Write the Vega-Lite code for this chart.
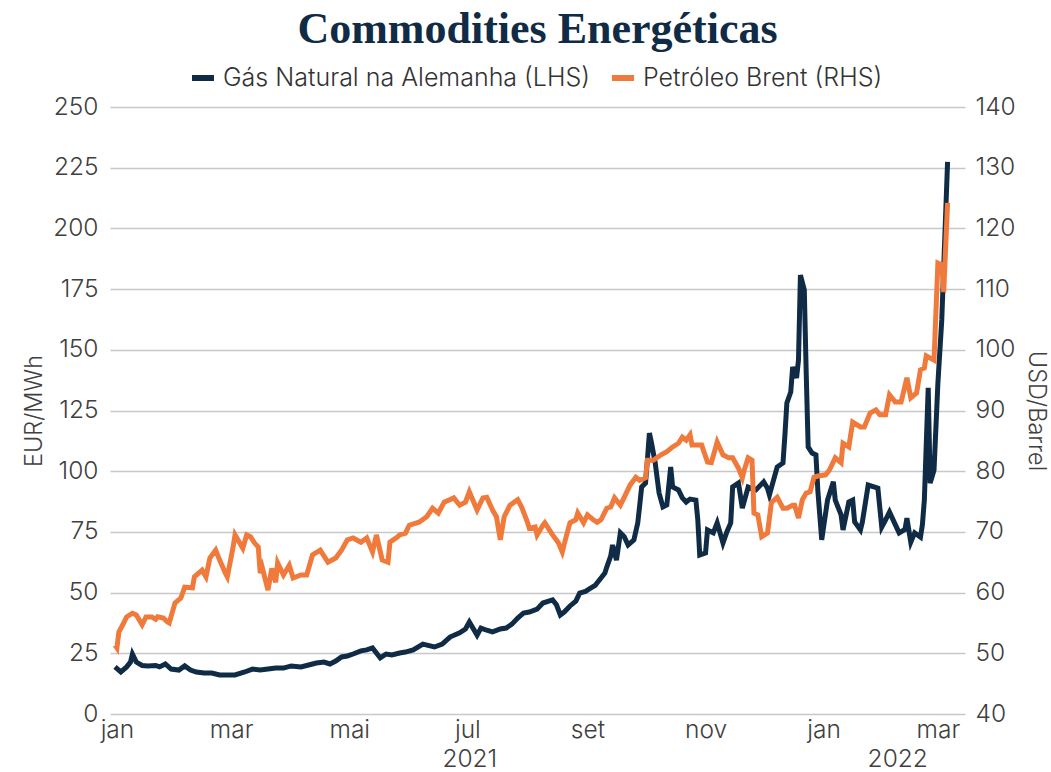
{
  "$schema": "https://vega.github.io/schema/vega-lite/v6.json",
  "width": 855,
  "height": 607,
  "autosize": {"type": "none"},
  "padding": {"left": 110, "top": 107, "right": 86, "bottom": 58},
  "background": "white",
  "title": {"text": "Commodities Energéticas", "font": "Liberation Serif", "fontSize": 44, "fontWeight": "bold", "color": "#0f2b45", "anchor": "middle", "frame": "group", "offset": 12},
  "config": {
    "view": {"stroke": null},
    "axis": {"labelFont": "Inter", "labelFontWeight": 300, "labelFontSize": 24.5, "labelColor": "#404040", "titleFont": "Inter", "titleFontWeight": 300, "titleFontSize": 23.5, "titleColor": "#404040", "domain": false, "ticks": false, "tickSize": 0}
  },
  "datasets": {
    "gas": [
      {"date": "2020-12-31", "value": 19.4}, {"date": "2021-01-03", "value": 17.3}, {"date": "2021-01-06", "value": 19.4}, {"date": "2021-01-08", "value": 21.4}, {"date": "2021-01-09", "value": 24.7}, {"date": "2021-01-11", "value": 21.4}, {"date": "2021-01-14", "value": 20.0}, {"date": "2021-01-17", "value": 19.8}, {"date": "2021-01-21", "value": 20.0}, {"date": "2021-01-23", "value": 19.4}, {"date": "2021-01-26", "value": 20.6}, {"date": "2021-01-29", "value": 18.5},
      {"date": "2021-02-02", "value": 18.1}, {"date": "2021-02-05", "value": 19.8}, {"date": "2021-02-08", "value": 18.1}, {"date": "2021-02-11", "value": 17.3}, {"date": "2021-02-15", "value": 16.9}, {"date": "2021-02-19", "value": 16.9}, {"date": "2021-02-23", "value": 16.1}, {"date": "2021-02-27", "value": 16.1},
      {"date": "2021-03-03", "value": 16.1}, {"date": "2021-03-08", "value": 17.3}, {"date": "2021-03-12", "value": 18.5}, {"date": "2021-03-16", "value": 18.1}, {"date": "2021-03-20", "value": 18.5}, {"date": "2021-03-24", "value": 18.9}, {"date": "2021-03-28", "value": 18.9},
      {"date": "2021-04-01", "value": 19.8}, {"date": "2021-04-06", "value": 19.4}, {"date": "2021-04-10", "value": 20.2}, {"date": "2021-04-14", "value": 21.0}, {"date": "2021-04-18", "value": 21.4}, {"date": "2021-04-21", "value": 20.6}, {"date": "2021-04-24", "value": 21.8}, {"date": "2021-04-27", "value": 23.5}, {"date": "2021-04-30", "value": 23.9},
      {"date": "2021-05-03", "value": 24.7}, {"date": "2021-05-07", "value": 26.0}, {"date": "2021-05-10", "value": 26.4}, {"date": "2021-05-13", "value": 27.2}, {"date": "2021-05-17", "value": 23.1}, {"date": "2021-05-20", "value": 24.7}, {"date": "2021-05-23", "value": 24.3}, {"date": "2021-05-27", "value": 25.1}, {"date": "2021-05-30", "value": 25.5},
      {"date": "2021-06-03", "value": 26.4}, {"date": "2021-06-08", "value": 28.8}, {"date": "2021-06-14", "value": 27.6}, {"date": "2021-06-18", "value": 28.8}, {"date": "2021-06-22", "value": 31.7}, {"date": "2021-06-27", "value": 33.4}, {"date": "2021-06-30", "value": 35.0},
      {"date": "2021-07-02", "value": 37.9}, {"date": "2021-07-06", "value": 32.5}, {"date": "2021-07-08", "value": 35.4}, {"date": "2021-07-11", "value": 34.5}, {"date": "2021-07-14", "value": 33.8}, {"date": "2021-07-18", "value": 35.0}, {"date": "2021-07-21", "value": 35.4}, {"date": "2021-07-24", "value": 37.0}, {"date": "2021-07-27", "value": 39.5}, {"date": "2021-07-30", "value": 41.6},
      {"date": "2021-08-02", "value": 42.0}, {"date": "2021-08-06", "value": 43.2}, {"date": "2021-08-09", "value": 45.7}, {"date": "2021-08-12", "value": 46.5}, {"date": "2021-08-14", "value": 47.0}, {"date": "2021-08-16", "value": 45.0}, {"date": "2021-08-18", "value": 40.8}, {"date": "2021-08-20", "value": 42.0}, {"date": "2021-08-23", "value": 44.5}, {"date": "2021-08-26", "value": 46.5}, {"date": "2021-08-28", "value": 49.8}, {"date": "2021-08-31", "value": 50.5},
      {"date": "2021-09-02", "value": 51.5}, {"date": "2021-09-05", "value": 53.0}, {"date": "2021-09-08", "value": 56.0}, {"date": "2021-09-10", "value": 58.0}, {"date": "2021-09-11", "value": 60.5}, {"date": "2021-09-13", "value": 65.0}, {"date": "2021-09-14", "value": 69.6}, {"date": "2021-09-16", "value": 63.4}, {"date": "2021-09-18", "value": 74.6}, {"date": "2021-09-20", "value": 73.0}, {"date": "2021-09-22", "value": 69.6}, {"date": "2021-09-25", "value": 71.7}, {"date": "2021-09-27", "value": 78.7}, {"date": "2021-09-28", "value": 86.0}, {"date": "2021-09-29", "value": 93.5},
      {"date": "2021-10-01", "value": 95.1}, {"date": "2021-10-02", "value": 105.0}, {"date": "2021-10-03", "value": 115.7}, {"date": "2021-10-04", "value": 112.0}, {"date": "2021-10-06", "value": 103.4}, {"date": "2021-10-08", "value": 91.0}, {"date": "2021-10-10", "value": 85.3}, {"date": "2021-10-12", "value": 86.1}, {"date": "2021-10-14", "value": 101.7}, {"date": "2021-10-15", "value": 93.5}, {"date": "2021-10-18", "value": 92.3}, {"date": "2021-10-20", "value": 89.0}, {"date": "2021-10-22", "value": 87.3}, {"date": "2021-10-24", "value": 88.5}, {"date": "2021-10-27", "value": 88.1}, {"date": "2021-10-28", "value": 80.0}, {"date": "2021-10-29", "value": 65.5},
      {"date": "2021-11-01", "value": 66.3}, {"date": "2021-11-02", "value": 75.8}, {"date": "2021-11-05", "value": 74.6}, {"date": "2021-11-07", "value": 78.7}, {"date": "2021-11-10", "value": 70.4}, {"date": "2021-11-12", "value": 75.0}, {"date": "2021-11-14", "value": 78.7}, {"date": "2021-11-15", "value": 93.5}, {"date": "2021-11-18", "value": 95.1}, {"date": "2021-11-20", "value": 84.8}, {"date": "2021-11-23", "value": 93.5}, {"date": "2021-11-27", "value": 92.3},
      {"date": "2021-12-01", "value": 95.6}, {"date": "2021-12-03", "value": 93.0}, {"date": "2021-12-04", "value": 90.2}, {"date": "2021-12-06", "value": 96.0}, {"date": "2021-12-08", "value": 101.7}, {"date": "2021-12-11", "value": 103.4}, {"date": "2021-12-12", "value": 115.0}, {"date": "2021-12-13", "value": 128.1}, {"date": "2021-12-15", "value": 132.6}, {"date": "2021-12-16", "value": 142.9}, {"date": "2021-12-18", "value": 138.4}, {"date": "2021-12-19", "value": 145.8}, {"date": "2021-12-20", "value": 180.8}, {"date": "2021-12-22", "value": 174.7}, {"date": "2021-12-23", "value": 140.0}, {"date": "2021-12-24", "value": 110.0}, {"date": "2021-12-26", "value": 107.5}, {"date": "2021-12-28", "value": 106.7}, {"date": "2021-12-29", "value": 92.0}, {"date": "2021-12-31", "value": 71.7},
      {"date": "2022-01-03", "value": 88.1}, {"date": "2022-01-06", "value": 95.6}, {"date": "2022-01-07", "value": 88.1}, {"date": "2022-01-10", "value": 82.0}, {"date": "2022-01-11", "value": 75.8}, {"date": "2022-01-14", "value": 87.3}, {"date": "2022-01-16", "value": 88.1}, {"date": "2022-01-17", "value": 79.1}, {"date": "2022-01-20", "value": 75.8}, {"date": "2022-01-21", "value": 79.1}, {"date": "2022-01-24", "value": 94.3}, {"date": "2022-01-27", "value": 93.5}, {"date": "2022-01-29", "value": 93.0}, {"date": "2022-01-31", "value": 77.0},
      {"date": "2022-02-02", "value": 80.0}, {"date": "2022-02-04", "value": 83.2}, {"date": "2022-02-07", "value": 78.0}, {"date": "2022-02-09", "value": 74.6}, {"date": "2022-02-12", "value": 76.0}, {"date": "2022-02-13", "value": 80.7}, {"date": "2022-02-15", "value": 70.8}, {"date": "2022-02-17", "value": 74.6}, {"date": "2022-02-20", "value": 72.9}, {"date": "2022-02-21", "value": 78.0}, {"date": "2022-02-22", "value": 88.1}, {"date": "2022-02-24", "value": 134.3}, {"date": "2022-02-25", "value": 95.1}, {"date": "2022-02-27", "value": 100.5},
      {"date": "2022-03-01", "value": 136.3}, {"date": "2022-03-03", "value": 162.3}, {"date": "2022-03-06", "value": 227.4}
    ],
    "brent": [
      {"date": "2020-12-31", "value": 51.4}, {"date": "2021-01-01", "value": 50.9}, {"date": "2021-01-02", "value": 53.5}, {"date": "2021-01-04", "value": 54.7}, {"date": "2021-01-06", "value": 56.0}, {"date": "2021-01-09", "value": 56.6}, {"date": "2021-01-11", "value": 56.3}, {"date": "2021-01-14", "value": 54.7}, {"date": "2021-01-16", "value": 56.0}, {"date": "2021-01-19", "value": 56.0}, {"date": "2021-01-21", "value": 55.6}, {"date": "2021-01-22", "value": 56.0}, {"date": "2021-01-25", "value": 55.8}, {"date": "2021-01-27", "value": 55.2}, {"date": "2021-01-28", "value": 55.0}, {"date": "2021-01-31", "value": 58.3},
      {"date": "2021-02-03", "value": 59.1}, {"date": "2021-02-05", "value": 60.9}, {"date": "2021-02-09", "value": 60.8}, {"date": "2021-02-10", "value": 62.6}, {"date": "2021-02-14", "value": 63.7}, {"date": "2021-02-16", "value": 62.6}, {"date": "2021-02-18", "value": 65.7}, {"date": "2021-02-21", "value": 67.0}, {"date": "2021-02-23", "value": 65.4}, {"date": "2021-02-26", "value": 63.2}, {"date": "2021-02-27", "value": 62.6},
      {"date": "2021-03-02", "value": 67.5}, {"date": "2021-03-03", "value": 69.5}, {"date": "2021-03-07", "value": 67.3}, {"date": "2021-03-09", "value": 69.5}, {"date": "2021-03-11", "value": 69.2}, {"date": "2021-03-13", "value": 68.2}, {"date": "2021-03-15", "value": 67.5}, {"date": "2021-03-16", "value": 63.2}, {"date": "2021-03-17", "value": 64.2}, {"date": "2021-03-20", "value": 60.4}, {"date": "2021-03-22", "value": 64.0}, {"date": "2021-03-24", "value": 61.7}, {"date": "2021-03-25", "value": 64.9}, {"date": "2021-03-28", "value": 62.9}, {"date": "2021-03-31", "value": 64.5},
      {"date": "2021-04-02", "value": 62.4}, {"date": "2021-04-06", "value": 62.9}, {"date": "2021-04-09", "value": 62.9}, {"date": "2021-04-12", "value": 66.2}, {"date": "2021-04-16", "value": 67.0}, {"date": "2021-04-20", "value": 65.0}, {"date": "2021-04-24", "value": 65.7}, {"date": "2021-04-27", "value": 67.0}, {"date": "2021-04-30", "value": 68.7},
      {"date": "2021-05-03", "value": 69.0}, {"date": "2021-05-07", "value": 68.3}, {"date": "2021-05-10", "value": 69.0}, {"date": "2021-05-13", "value": 66.7}, {"date": "2021-05-15", "value": 69.5}, {"date": "2021-05-18", "value": 65.4}, {"date": "2021-05-21", "value": 65.0}, {"date": "2021-05-22", "value": 68.3}, {"date": "2021-05-26", "value": 69.2}, {"date": "2021-05-27", "value": 69.5}, {"date": "2021-05-30", "value": 69.8},
      {"date": "2021-06-01", "value": 71.1}, {"date": "2021-06-06", "value": 71.6}, {"date": "2021-06-10", "value": 72.5}, {"date": "2021-06-13", "value": 73.9}, {"date": "2021-06-16", "value": 73.1}, {"date": "2021-06-19", "value": 74.9}, {"date": "2021-06-24", "value": 75.6}, {"date": "2021-06-27", "value": 74.4}, {"date": "2021-06-30", "value": 74.9},
      {"date": "2021-07-02", "value": 76.6}, {"date": "2021-07-06", "value": 73.6}, {"date": "2021-07-09", "value": 75.6}, {"date": "2021-07-11", "value": 75.7}, {"date": "2021-07-14", "value": 73.6}, {"date": "2021-07-16", "value": 72.5}, {"date": "2021-07-18", "value": 68.7}, {"date": "2021-07-20", "value": 72.5}, {"date": "2021-07-23", "value": 74.4}, {"date": "2021-07-27", "value": 75.3}, {"date": "2021-07-29", "value": 74.1},
      {"date": "2021-08-01", "value": 71.6}, {"date": "2021-08-02", "value": 70.6}, {"date": "2021-08-05", "value": 70.8}, {"date": "2021-08-06", "value": 69.5}, {"date": "2021-08-09", "value": 71.1}, {"date": "2021-08-10", "value": 71.5}, {"date": "2021-08-14", "value": 69.5}, {"date": "2021-08-17", "value": 68.2}, {"date": "2021-08-19", "value": 66.7}, {"date": "2021-08-21", "value": 69.2}, {"date": "2021-08-23", "value": 71.5}, {"date": "2021-08-26", "value": 72.0}, {"date": "2021-08-27", "value": 73.1}, {"date": "2021-08-30", "value": 71.5},
      {"date": "2021-09-01", "value": 72.8}, {"date": "2021-09-04", "value": 72.0}, {"date": "2021-09-06", "value": 71.6}, {"date": "2021-09-08", "value": 72.0}, {"date": "2021-09-11", "value": 73.9}, {"date": "2021-09-13", "value": 74.1}, {"date": "2021-09-15", "value": 75.6}, {"date": "2021-09-18", "value": 74.4}, {"date": "2021-09-20", "value": 75.7}, {"date": "2021-09-23", "value": 77.7}, {"date": "2021-09-26", "value": 79.0}, {"date": "2021-09-28", "value": 78.5},
      {"date": "2021-10-01", "value": 78.9}, {"date": "2021-10-02", "value": 81.8}, {"date": "2021-10-05", "value": 81.8}, {"date": "2021-10-09", "value": 82.7}, {"date": "2021-10-12", "value": 83.2}, {"date": "2021-10-15", "value": 84.0}, {"date": "2021-10-18", "value": 84.6}, {"date": "2021-10-20", "value": 85.6}, {"date": "2021-10-22", "value": 85.1}, {"date": "2021-10-24", "value": 86.0}, {"date": "2021-10-25", "value": 84.3}, {"date": "2021-10-30", "value": 84.3},
      {"date": "2021-11-02", "value": 81.5}, {"date": "2021-11-04", "value": 81.4}, {"date": "2021-11-07", "value": 84.8}, {"date": "2021-11-10", "value": 82.7}, {"date": "2021-11-13", "value": 82.2}, {"date": "2021-11-15", "value": 82.2}, {"date": "2021-11-18", "value": 80.5}, {"date": "2021-11-20", "value": 78.9}, {"date": "2021-11-21", "value": 80.2}, {"date": "2021-11-23", "value": 82.2}, {"date": "2021-11-25", "value": 81.8}, {"date": "2021-11-26", "value": 73.1}, {"date": "2021-11-28", "value": 72.8}, {"date": "2021-11-30", "value": 69.2},
      {"date": "2021-12-03", "value": 69.8}, {"date": "2021-12-05", "value": 74.8}, {"date": "2021-12-08", "value": 75.7}, {"date": "2021-12-11", "value": 73.9}, {"date": "2021-12-13", "value": 73.9}, {"date": "2021-12-16", "value": 74.4}, {"date": "2021-12-17", "value": 74.4}, {"date": "2021-12-19", "value": 72.3}, {"date": "2021-12-21", "value": 75.3}, {"date": "2021-12-23", "value": 76.4}, {"date": "2021-12-25", "value": 76.6}, {"date": "2021-12-27", "value": 79.0}, {"date": "2021-12-29", "value": 79.2},
      {"date": "2022-01-02", "value": 79.4}, {"date": "2022-01-04", "value": 80.2}, {"date": "2022-01-07", "value": 82.2}, {"date": "2022-01-10", "value": 81.4}, {"date": "2022-01-11", "value": 84.6}, {"date": "2022-01-14", "value": 84.0}, {"date": "2022-01-16", "value": 88.1}, {"date": "2022-01-20", "value": 87.3}, {"date": "2022-01-22", "value": 87.3}, {"date": "2022-01-25", "value": 89.6}, {"date": "2022-01-28", "value": 90.1}, {"date": "2022-01-30", "value": 89.3},
      {"date": "2022-02-02", "value": 89.3}, {"date": "2022-02-04", "value": 92.6}, {"date": "2022-02-07", "value": 91.4}, {"date": "2022-02-10", "value": 91.4}, {"date": "2022-02-13", "value": 95.4}, {"date": "2022-02-15", "value": 92.1}, {"date": "2022-02-18", "value": 92.9}, {"date": "2022-02-20", "value": 96.7}, {"date": "2022-02-22", "value": 97.0}, {"date": "2022-02-23", "value": 99.0}, {"date": "2022-02-27", "value": 98.3},
      {"date": "2022-03-01", "value": 114.3}, {"date": "2022-03-03", "value": 114.0}, {"date": "2022-03-04", "value": 109.5}, {"date": "2022-03-06", "value": 124.2}
    ]
  },
  "layer": [
    {
      "data": {"name": "gas"},
      "mark": {"type": "line", "strokeWidth": 5},
      "encoding": {
        "x": {"field": "date", "type": "temporal",
          "scale": {"type": "utc", "domain": [{"year": 2020, "month": 12, "date": 28, "hours": 10, "utc": true}, {"year": 2022, "month": 3, "date": 15, "utc": true}]},
          "axis": {"orient": "bottom", "title": null, "grid": false, "labelPadding": 4, "labelAlign": "center", "labelFlush": false, "labelOverlap": false,
            "values": [{"year": 2021, "month": 1, "date": 1, "utc": true}, {"year": 2021, "month": 3, "date": 1, "utc": true}, {"year": 2021, "month": 5, "date": 1, "utc": true}, {"year": 2021, "month": 7, "date": 1, "utc": true}, {"year": 2021, "month": 9, "date": 1, "utc": true}, {"year": 2021, "month": 11, "date": 1, "utc": true}, {"year": 2022, "month": 1, "date": 1, "utc": true}, {"year": 2022, "month": 3, "date": 1, "utc": true}],
            "labelExpr": "['jan','fev','mar','abr','mai','jun','jul','ago','set','out','nov','dez'][utcmonth(datum.value)]"}},
        "y": {"field": "value", "type": "quantitative", "scale": {"domain": [0, 250], "nice": false},
          "axis": {"orient": "left", "title": "EUR/MWh", "values": [0, 25, 50, 75, 100, 125, 150, 175, 200, 225, 250], "grid": true, "gridColor": "#c8c8c8", "gridWidth": 1.6, "labelPadding": 12, "titlePadding": 6}},
        "color": {"datum": "Gás Natural na Alemanha (LHS)", "type": "nominal",
          "scale": {"domain": ["Gás Natural na Alemanha (LHS)", "Petróleo Brent (RHS)"], "range": ["#0f2b45", "#ef7a3c"]},
          "legend": {"orient": "none", "legendX": 79, "legendY": -43, "direction": "horizontal", "title": null, "padding": 0, "labelFont": "Inter", "labelFontWeight": 300, "labelFontSize": 25, "labelColor": "#333333", "labelLimit": 0, "symbolType": "stroke", "symbolStrokeWidth": 6, "symbolSize": 484, "labelOffset": 6, "columnPadding": 10}}
      }
    },
    {
      "data": {"name": "brent"},
      "mark": {"type": "line", "strokeWidth": 5},
      "encoding": {
        "x": {"field": "date", "type": "temporal",
          "axis": {"orient": "bottom", "title": null, "grid": false, "labelPadding": 33, "labelAlign": "center", "labelFlush": false, "labelOverlap": false,
            "values": [{"year": 2021, "month": 7, "date": 2, "utc": true}, {"year": 2022, "month": 2, "date": 8, "utc": true}],
            "labelExpr": "utcyear(datum.value)"}},
        "y": {"field": "value", "type": "quantitative", "scale": {"domain": [40, 140], "nice": false},
          "axis": {"orient": "right", "title": "USD/Barrel", "values": [40, 50, 60, 70, 80, 90, 100, 110, 120, 130, 140], "grid": false, "labelPadding": 10, "titlePadding": 8}},
        "color": {"datum": "Petróleo Brent (RHS)", "type": "nominal"}
      }
    }
  ],
  "resolve": {"scale": {"y": "independent"}, "axis": {"x": "independent"}}
}
